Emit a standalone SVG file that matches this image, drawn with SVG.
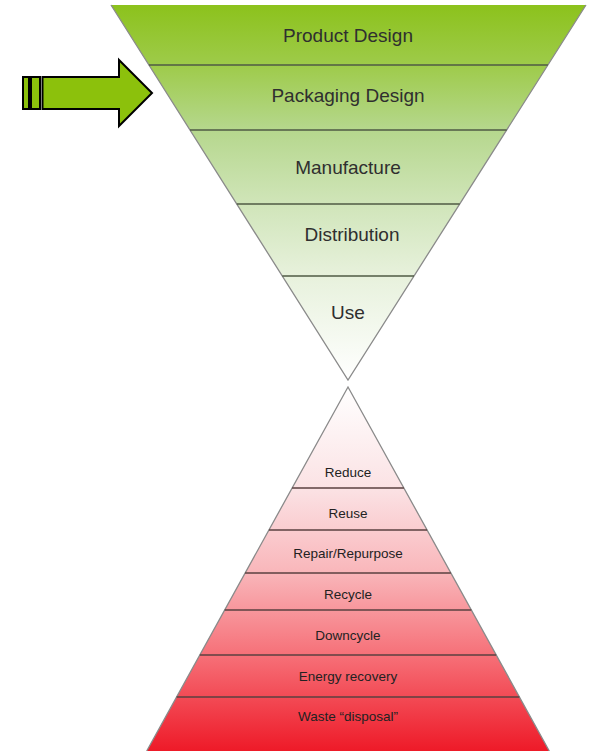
<svg xmlns="http://www.w3.org/2000/svg" width="590" height="751" viewBox="0 0 590 751">
<defs>
<linearGradient id="gTop" gradientUnits="userSpaceOnUse" x1="0" y1="5" x2="0" y2="380">
<stop offset="0" stop-color="#8cc21c"/>
<stop offset="0.16" stop-color="#9ecb4a"/>
<stop offset="0.33" stop-color="#b5d78c"/>
<stop offset="0.53" stop-color="#d0e5b9"/>
<stop offset="0.72" stop-color="#e7f1dc"/>
<stop offset="1" stop-color="#ffffff"/>
</linearGradient>
<linearGradient id="gBot" gradientUnits="userSpaceOnUse" x1="0" y1="387" x2="0" y2="751">
<stop offset="0" stop-color="#ffffff"/>
<stop offset="0.28" stop-color="#fbe2e4"/>
<stop offset="0.51" stop-color="#f9b6ba"/>
<stop offset="0.74" stop-color="#f66f77"/>
<stop offset="1" stop-color="#ee1a28"/>
</linearGradient>
</defs>
<style>
.top{fill:url(#gTop);}
.bot{fill:url(#gBot);}
.edge{stroke:#8a8a8a;stroke-width:1.3;fill:none;}
.divT{stroke:#4f5a45;stroke-width:1.3;}
.divB{stroke:#5a4040;stroke-width:1.3;}
.tT{font-family:"Liberation Sans",Arial,sans-serif;font-size:19px;fill:#2f2f2f;text-anchor:middle;}
.tB{font-family:"Liberation Sans",Arial,sans-serif;font-size:13.5px;fill:#222;text-anchor:middle;}
.arrow{fill:#8cc10c;stroke:#000;stroke-width:2;}
</style>
<g id="top-funnel">
<g id="product-design"><polygon class="top" points="111,5 586,5 547.9,65 148.9,65"/><text class="tT" x="348" y="42">Product Design</text></g>
<g id="packaging-design"><polygon class="top" points="148.9,65 547.9,65 506.7,130 190,130"/><text class="tT" x="348" y="102">Packaging Design</text></g>
<g id="manufacture"><polygon class="top" points="190,130 506.7,130 459.7,204 236.8,204"/><text class="tT" x="348" y="174">Manufacture</text></g>
<g id="distribution"><polygon class="top" points="236.8,204 459.7,204 414,276 282.3,276"/><text class="tT" x="352" y="241">Distribution</text></g>
<g id="use"><polygon class="top" points="282.3,276 414,276 348,380"/><text class="tT" x="348" y="319">Use</text></g>
</g>
<g id="bottom-pyramid">
<g id="reduce"><polygon class="bot" points="348,387 403.9,488 292.1,488"/><text class="tB" x="348" y="477">Reduce</text></g>
<g id="reuse"><polygon class="bot" points="292.1,488 403.9,488 427.1,530 268.9,530"/><text class="tB" x="348" y="518">Reuse</text></g>
<g id="repair"><polygon class="bot" points="268.9,530 427.1,530 450.9,573 245.1,573"/><text class="tB" x="348" y="558">Repair/Repurpose</text></g>
<g id="recycle"><polygon class="bot" points="245.1,573 450.9,573 471.3,610 224.7,610"/><text class="tB" x="348" y="599">Recycle</text></g>
<g id="downcycle"><polygon class="bot" points="224.7,610 471.3,610 496.2,655 199.8,655"/><text class="tB" x="348" y="640">Downcycle</text></g>
<g id="energy-recovery"><polygon class="bot" points="199.8,655 496.2,655 519.4,697 176.6,697"/><text class="tB" x="348" y="681">Energy recovery</text></g>
<g id="waste-disposal"><polygon class="bot" points="176.6,697 519.4,697 549.3,751 146.7,751"/><text class="tB" x="348" y="721">Waste “disposal”</text></g>
</g>
<g id="connectors">
<polyline class="edge" points="111,5 348,380 586,5"/>
<polyline class="edge" points="146.7,751 348,387 549.3,751"/>
<line class="divT" x1="148.9" y1="65" x2="547.9" y2="65"/>
<line class="divT" x1="190" y1="130" x2="506.7" y2="130"/>
<line class="divT" x1="236.8" y1="204" x2="459.7" y2="204"/>
<line class="divT" x1="282.3" y1="276" x2="414" y2="276"/>
<line class="divB" x1="292.1" y1="488" x2="403.9" y2="488"/>
<line class="divB" x1="268.9" y1="530" x2="427.1" y2="530"/>
<line class="divB" x1="245.1" y1="573" x2="450.9" y2="573"/>
<line class="divB" x1="224.7" y1="610" x2="471.3" y2="610"/>
<line class="divB" x1="199.8" y1="655" x2="496.2" y2="655"/>
<line class="divB" x1="176.6" y1="697" x2="519.4" y2="697"/>
</g>
<g id="arrow">
<rect class="arrow" x="23" y="77" width="6" height="32"/>
<rect class="arrow" x="31" y="77" width="9" height="32"/>
<polygon class="arrow" points="42.5,77 119,77 119,60 152,93 119,126 119,109 42.5,109"/>
</g>
</svg>
